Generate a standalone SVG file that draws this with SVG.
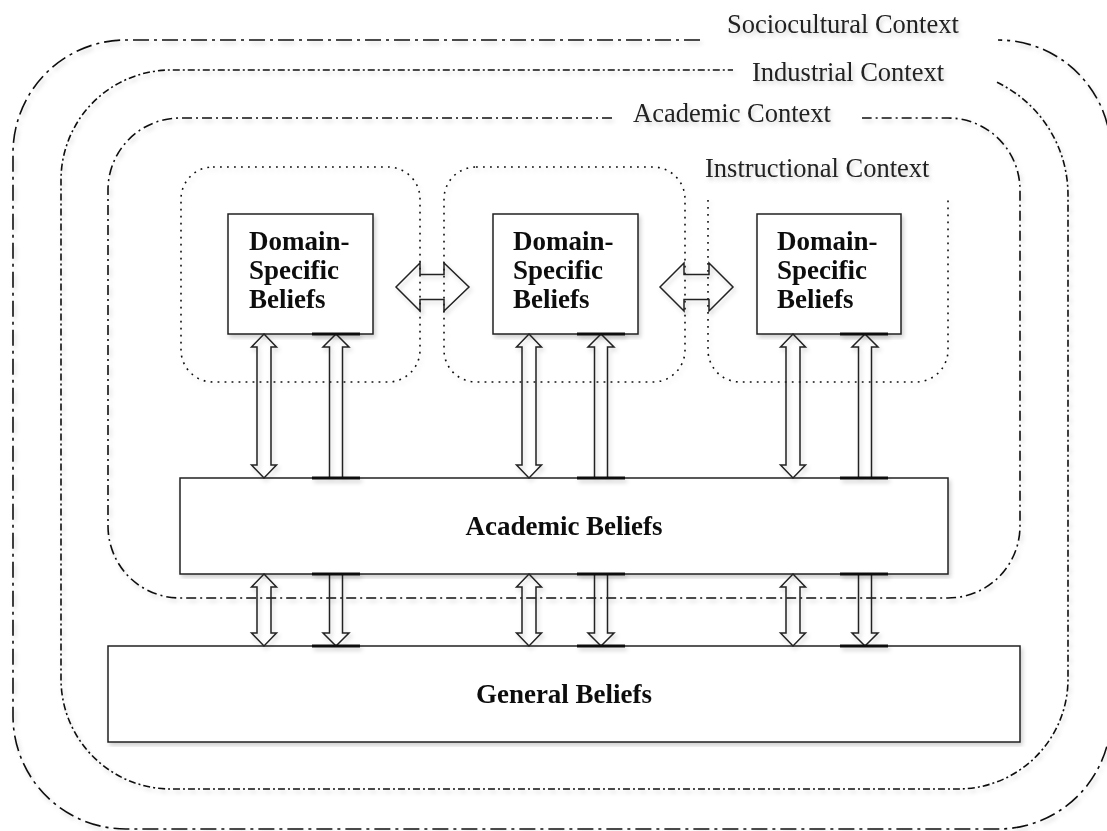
<svg xmlns="http://www.w3.org/2000/svg" width="1107" height="831" viewBox="0 0 1107 831">
<style>
.ctx{fill:none;stroke:#111;stroke-width:1.6}
.soc{stroke-dasharray:16 5 3 5}
.ind{stroke-dasharray:7 3 2 3}
.aca{stroke-dasharray:10 4 2 4}
.ins{fill:none;stroke:#111;stroke-width:1.6;stroke-dasharray:1.8 5.2}
.box{fill:#fff;stroke:#222;stroke-width:1.5}
.arr{fill:none;stroke:#222;stroke-width:1.5;stroke-linejoin:miter}
.thick{stroke:#111;stroke-width:2.8}
.lbl{font-family:"Liberation Serif","Times New Roman",serif;font-size:26.5px;fill:#222}
.bold{font-family:"Liberation Serif","Times New Roman",serif;font-size:27px;font-weight:bold;fill:#111}
.sh{filter:url(#shadow)}
</style>
<defs>
<filter id="shadow" x="-5%" y="-5%" width="110%" height="110%">
<feDropShadow dx="2" dy="3" stdDeviation="2" flood-color="#000" flood-opacity="0.18"/>
</filter>
</defs>
<rect width="1107" height="831" fill="#fff"/>

<g id="sociocultural-context" class="sh">
<path class="ctx soc" d="M700,40 H126 A113,113 0 0 0 13,153 V716 A113,113 0 0 0 126,829 H998 A113,113 0 0 0 1111,716 V153 A113,113 0 0 0 998,40"/>
<text class="lbl" x="727" y="33">Sociocultural Context</text>
</g>
<g id="industrial-context" class="sh">
<path class="ctx ind" d="M997,82.3 A125,125 0 0 1 1068,195 V679 A110,110 0 0 1 958,789 H171 A110,110 0 0 1 61,679 V180 A110,110 0 0 1 171,70 H733"/>
<text class="lbl" x="752" y="81">Industrial Context</text>
</g>
<g id="academic-context" class="sh">
<path class="ctx aca" d="M612,118 H180 A72,72 0 0 0 108,190 V526 A72,72 0 0 0 180,598 H948 A72,72 0 0 0 1020,526 V190 A72,72 0 0 0 948,118 H862"/>
<text class="lbl" x="633" y="122">Academic Context</text>
</g>
<g id="instructional-context" class="sh">
<rect class="ins" x="181" y="167" width="239" height="215" rx="32"/>
<rect class="ins" x="444" y="167" width="241" height="215" rx="32"/>
<path class="ins" d="M708,200 V350 A32,32 0 0 0 740,382 H916 A32,32 0 0 0 948,350 V200"/>
<text class="lbl" x="705" y="177">Instructional Context</text>
</g>

<g id="domain-1" class="sh">
<rect class="box" x="228" y="214" width="145" height="120"/>
<text class="bold" x="249" y="250">Domain-</text>
<text class="bold" x="249" y="279">Specific</text>
<text class="bold" x="249" y="308">Beliefs</text>
</g>
<g id="domain-2" class="sh">
<rect class="box" x="493" y="214" width="145" height="120"/>
<text class="bold" x="513" y="250">Domain-</text>
<text class="bold" x="513" y="279">Specific</text>
<text class="bold" x="513" y="308">Beliefs</text>
</g>
<g id="domain-3" class="sh">
<rect class="box" x="757" y="214" width="144" height="120"/>
<text class="bold" x="777" y="250">Domain-</text>
<text class="bold" x="777" y="279">Specific</text>
<text class="bold" x="777" y="308">Beliefs</text>
</g>
<g id="academic-beliefs" class="sh">
<rect class="box" x="180" y="478" width="768" height="96"/>
<text class="bold" x="564" y="535" text-anchor="middle">Academic Beliefs</text>
</g>
<g id="general-beliefs" class="sh">
<rect class="box" x="108" y="646" width="912" height="96"/>
<text class="bold" x="564" y="703" text-anchor="middle">General Beliefs</text>
</g>

<g id="connectors" class="sh">
<polygon class="arr" points="396,287 420,263 420,274.5 444,274.5 444,263 469,287 444,311 444,299.5 420,299.5 420,311"/>
<polygon class="arr" points="660,287 684,263 684,274.5 709,274.5 709,263 733,287 709,311 709,299.5 684,299.5 684,311"/>
<polygon class="arr" points="264,334 276.5,347 271,347 271,465 276.5,465 264,478 251.5,465 257,465 257,347 251.5,347"/>
<polygon class="arr" points="529,334 541.5,347 536,347 536,465 541.5,465 529,478 516.5,465 522,465 522,347 516.5,347"/>
<polygon class="arr" points="793,334 805.5,347 800,347 800,465 805.5,465 793,478 780.5,465 786,465 786,347 780.5,347"/>
<polyline class="arr" points="329.5,478 329.5,347 323,347 336,334 349,347 342.5,347 342.5,478"/>
<polyline class="arr" points="594.5,478 594.5,347 588,347 601,334 614,347 607.5,347 607.5,478"/>
<polyline class="arr" points="858.5,478 858.5,347 852,347 865,334 878,347 871.5,347 871.5,478"/>
<polygon class="arr" points="264,574 276.5,587 271,587 271,633 276.5,633 264,646 251.5,633 257,633 257,587 251.5,587"/>
<polygon class="arr" points="529,574 541.5,587 536,587 536,633 541.5,633 529,646 516.5,633 522,633 522,587 516.5,587"/>
<polygon class="arr" points="793,574 805.5,587 800,587 800,633 805.5,633 793,646 780.5,633 786,633 786,587 780.5,587"/>
<polyline class="arr" points="329.5,574 329.5,633 323,633 336,646 349,633 342.5,633 342.5,574"/>
<polyline class="arr" points="594.5,574 594.5,633 588,633 601,646 614,633 607.5,633 607.5,574"/>
<polyline class="arr" points="858.5,574 858.5,633 852,633 865,646 878,633 871.5,633 871.5,574"/>
<path class="thick" d="M312,334 H360 M312,478 H360 M312,574 H360 M312,646 H360 M577,334 H625 M577,478 H625 M577,574 H625 M577,646 H625 M840,334 H888 M840,478 H888 M840,574 H888 M840,646 H888"/>
</g>
</svg>
